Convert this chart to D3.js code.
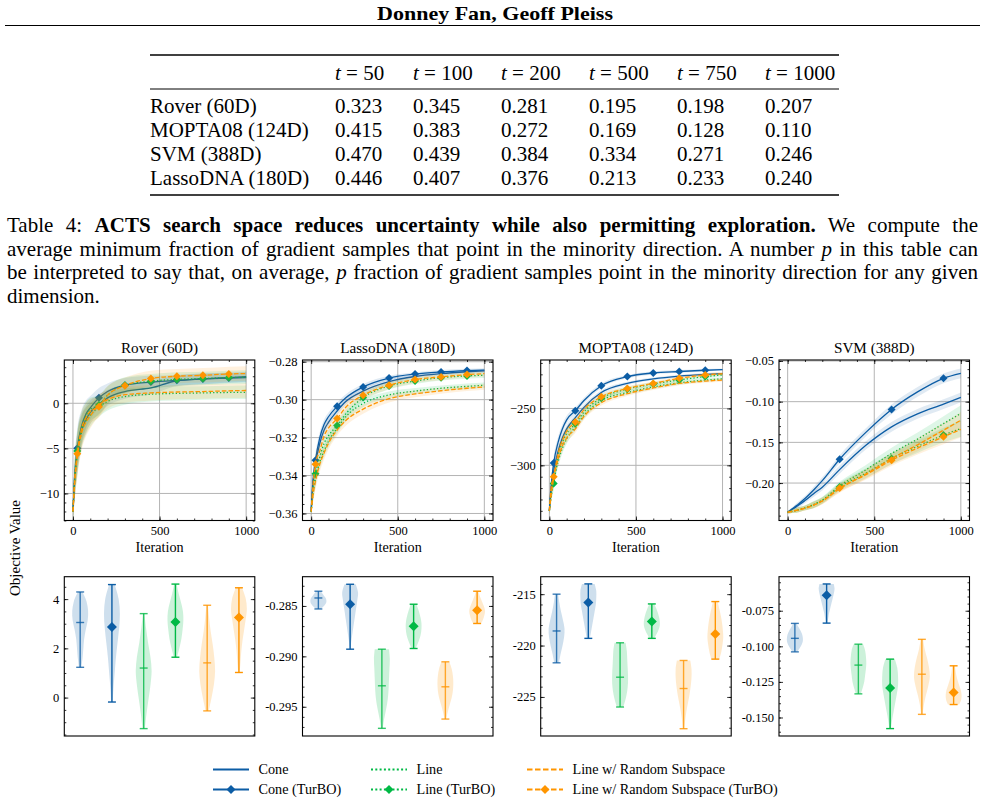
<!DOCTYPE html>
<html>
<head>
<meta charset="utf-8">
<script src="https://cdn.jsdelivr.net/npm/d3@7"></script>
<style>
  body { margin: 0; background: #fff; }
  svg { display: block; }
</style>
</head>
<body>
<div id="chart"></div>
<script>
//////////////////////////////////////////////////////////////////
//////////////////////////  Data  ////////////////////////////////
// table
const tableCols = ["50", "100", "200", "500", "750", "1000"];
const tableRows = ["Rover (60D)", "MOPTA08 (124D)", "SVM (388D)", "LassoDNA (180D)"];
const roverFrac = ["0.323", "0.345", "0.281", "0.195", "0.198", "0.207"];
const moptaFrac = ["0.415", "0.383", "0.272", "0.169", "0.128", "0.110"];
const svmFrac = ["0.470", "0.439", "0.384", "0.334", "0.271", "0.246"];
const lassoFrac = ["0.446", "0.407", "0.376", "0.213", "0.233", "0.240"];

// plots
const benchmarks = ["Rover (60D)", "LassoDNA (180D)", "MOPTA08 (124D)", "SVM (388D)"];
const methods = ["Cone", "Cone (TurBO)", "Line", "Line (TurBO)",
  "Line w/ Random Subspace", "Line w/ Random Subspace (TurBO)"];
const iterGrid = [0, 10, 25, 50, 75, 100, 150, 200, 300, 450, 600, 750, 900, 1000];
const markIters = [25, 150, 300, 450, 600, 750, 900];
const svmMarkIters = [300, 600, 900];

// Rover (60D) curves
const roverCone  = [-12, -8.5, -5.5, -3.0, -1.8, -1.0, -0.1, 0.6, 1.3, 1.7, 2.5, 2.7, 2.85, 2.95];
const roverConeT = [-12, -8.0, -5.0, -2.5, -1.2, -0.5, 0.6, 1.3, 2.0, 2.35, 2.55, 2.7, 2.8, 2.85];
const roverLine  = [-12, -8.6, -5.8, -3.2, -2.0, -1.3, -0.4, 0.2, 0.75, 1.0, 1.1, 1.15, 1.2, 1.22];
const roverLineT = [-12, -8.2, -5.3, -2.7, -1.4, -0.7, -0.2, 0.9, 2.0, 2.45, 2.65, 2.75, 2.85, 2.9];
const roverLRS   = [-12, -8.7, -5.9, -3.3, -2.1, -1.4, -0.2, 0.4, 0.95, 1.15, 1.25, 1.3, 1.38, 1.42];
const roverLRST  = [-12, -8.6, -5.6, -2.8, -1.6, -0.9, -0.38, 0.9, 1.95, 2.75, 3.0, 3.1, 3.25, 3.3];
const roverBandCone = [1.0, 2.0, 2.2, 1.8, 1.5, 1.3, 1.1, 0.9, 0.8, 0.7, 0.6, 0.6, 0.55, 0.55];
const roverBandLine = [1.0, 2.0, 2.2, 1.8, 1.5, 1.3, 1.1, 1.0, 0.9, 0.8, 0.8, 0.75, 0.75, 0.75];
const roverBandLRS  = [1.0, 2.0, 2.3, 1.9, 1.6, 1.4, 1.2, 1.0, 0.9, 0.85, 0.8, 0.8, 0.8, 0.8];

// LassoDNA (180D) curves
const lassoCone  = [-0.359, -0.345, -0.334, -0.323, -0.316, -0.312, -0.306, -0.301, -0.2955, -0.2905, -0.2878, -0.2863, -0.2853, -0.2848];
const lassoConeT = [-0.359, -0.343, -0.332, -0.320, -0.313, -0.309, -0.3035, -0.299, -0.2933, -0.2886, -0.2865, -0.2854, -0.2847, -0.2844];
const lassoLine  = [-0.359, -0.350, -0.342, -0.333, -0.327, -0.322, -0.315, -0.309, -0.302, -0.2975, -0.2955, -0.294, -0.293, -0.2924];
const lassoLineT = [-0.359, -0.348, -0.339, -0.330, -0.323, -0.319, -0.3136, -0.3075, -0.2989, -0.2928, -0.2902, -0.2884, -0.2875, -0.2871];
const lassoLRS   = [-0.359, -0.351, -0.343, -0.334, -0.328, -0.323, -0.316, -0.311, -0.305, -0.2995, -0.297, -0.2953, -0.294, -0.2933];
const lassoLRST  = [-0.359, -0.346, -0.334, -0.327, -0.319, -0.315, -0.310, -0.304, -0.2977, -0.2924, -0.2894, -0.288, -0.2868, -0.2863];
const lassoBandCone = [0.002, 0.004, 0.004, 0.003, 0.0025, 0.0022, 0.002, 0.0018, 0.0015, 0.0012, 0.001, 0.001, 0.001, 0.001];
const lassoBandLine = [0.002, 0.004, 0.004, 0.0035, 0.003, 0.003, 0.0028, 0.0025, 0.002, 0.0018, 0.0016, 0.0015, 0.0015, 0.0015];
const lassoBandLRS  = [0.002, 0.004, 0.0045, 0.004, 0.0035, 0.0033, 0.003, 0.0028, 0.0024, 0.002, 0.0018, 0.0016, 0.0015, 0.0015];

// MOPTA08 (124D) curves
const moptaCone  = [-340, -322, -305, -288, -276, -268, -258, -249, -236, -228, -224, -221.5, -220, -219.3];
const moptaConeT = [-340, -318, -298, -280, -268, -260, -252, -243, -230, -222, -218.8, -217.5, -216.4, -215.9];
const moptaLine  = [-340, -328, -313, -297, -285, -277, -266, -256, -243, -236, -231, -227.5, -225, -224];
const moptaLineT = [-340, -325, -316, -292, -280, -272, -263.5, -253, -241, -233, -228.5, -225, -222, -220.5];
const moptaLRS   = [-340, -327, -311, -295, -283, -276, -268, -257, -245, -237, -232, -228, -226, -225];
const moptaLRST  = [-340, -320, -310, -290, -278, -270, -261.8, -251, -239.8, -232.4, -228, -223.5, -220.6, -219.5];
const moptaBandCone = [3, 6, 6, 5, 4, 3.5, 3, 2.5, 2, 1.5, 1.3, 1.2, 1.1, 1.0];
const moptaBandLine = [3, 6, 6, 5, 4.5, 4, 3.5, 3, 2.5, 2, 1.8, 1.6, 1.5, 1.5];
const moptaBandLRS  = [3, 6, 6, 5, 4.5, 4, 3.5, 3, 2.5, 2, 1.8, 1.6, 1.5, 1.5];

// SVM (388D) curves
const svmCone  = [-0.236, -0.2345, -0.2325, -0.229, -0.2255, -0.2215, -0.213, -0.205, -0.1835, -0.154, -0.131, -0.115, -0.103, -0.0947];
const svmConeT = [-0.236, -0.2345, -0.232, -0.228, -0.2235, -0.219, -0.2085, -0.197, -0.1707, -0.138, -0.1095, -0.088, -0.0713, -0.0652];
const svmLine  = [-0.236, -0.2355, -0.2348, -0.2335, -0.232, -0.2305, -0.2265, -0.221, -0.2035, -0.184, -0.1637, -0.146, -0.127, -0.1145];
const svmLineT = [-0.236, -0.2355, -0.2348, -0.2335, -0.232, -0.2305, -0.2265, -0.221, -0.2048, -0.188, -0.1698, -0.155, -0.141, -0.133];
const svmLRS   = [-0.236, -0.2355, -0.2348, -0.2335, -0.2322, -0.2308, -0.227, -0.222, -0.207, -0.189, -0.170, -0.153, -0.135, -0.1227];
const svmLRST  = [-0.236, -0.2355, -0.2348, -0.2335, -0.2322, -0.2308, -0.227, -0.222, -0.206, -0.190, -0.172, -0.157, -0.1432, -0.134];
const svmBandCone = [0.001, 0.002, 0.002, 0.003, 0.003, 0.003, 0.004, 0.004, 0.005, 0.005, 0.006, 0.006, 0.006, 0.006];
const svmBandLine = [0.001, 0.002, 0.002, 0.003, 0.003, 0.003, 0.004, 0.004, 0.005, 0.006, 0.007, 0.008, 0.009, 0.01];
const svmBandLRS  = [0.001, 0.002, 0.002, 0.003, 0.003, 0.003, 0.004, 0.004, 0.005, 0.006, 0.007, 0.008, 0.009, 0.01];

// final-value violins (order = methods)
const roverLo  = [1.23, -0.18, -1.26, 1.64, -0.54, 1.02];
const roverHi  = [4.29, 4.59, 3.41, 4.61, 3.75, 4.46];
const roverMid = [3.05, 2.87, 1.2, 3.07, 1.41, 3.25];
const roverShape = [
  [0.15, 0.3, 0.4, 0.5, 0.7, 0.95, 1.0, 0.8, 0.3],
  [0.1, 0.2, 0.35, 0.5, 0.7, 0.9, 1.0, 0.85, 0.35],
  [0.15, 0.35, 0.6, 0.85, 1.0, 0.85, 0.55, 0.3, 0.1],
  [0.2, 0.5, 0.75, 0.9, 1.0, 0.95, 0.7, 0.4, 0.15],
  [0.2, 0.55, 0.85, 1.0, 0.9, 0.7, 0.45, 0.25, 0.1],
  [0.1, 0.2, 0.3, 0.45, 0.65, 0.85, 1.0, 0.85, 0.4]];

const lassoLo  = [-0.2853, -0.28929, -0.29714, -0.28922, -0.29622, -0.28674];
const lassoHi  = [-0.28354, -0.28285, -0.28929, -0.28483, -0.29054, -0.28354];
const lassoMid = [-0.28421, -0.28483, -0.29292, -0.28701, -0.29302, -0.28543];
const lassoShape = [
  [0.3, 0.6, 0.85, 1.0, 1.0, 0.9, 0.7, 0.5, 0.3],
  [0.05, 0.15, 0.3, 0.45, 0.6, 0.75, 0.9, 1.0, 0.7],
  [0.1, 0.3, 0.55, 0.75, 0.85, 0.9, 0.95, 1.0, 0.9],
  [0.25, 0.55, 0.8, 0.95, 1.0, 0.95, 0.8, 0.6, 0.35],
  [0.1, 0.3, 0.55, 0.8, 0.95, 1.0, 0.95, 0.8, 0.5],
  [0.5, 0.75, 0.9, 1.0, 0.9, 0.7, 0.5, 0.3, 0.15]];

const moptaLo  = [-221.68, -219.3, -225.98, -219.3, -228.09, -221.32];
const moptaHi  = [-215.0, -214.0, -219.73, -215.95, -221.45, -215.72];
const moptaMid = [-218.58, -215.82, -223.08, -217.67, -224.18, -218.88];
const moptaShape = [
  [0.3, 0.5, 0.75, 0.95, 1.0, 0.8, 0.55, 0.35, 0.2],
  [0.2, 0.35, 0.5, 0.65, 0.8, 0.95, 1.0, 1.0, 0.8],
  [0.4, 0.7, 0.9, 1.0, 1.0, 0.95, 0.9, 0.85, 0.7],
  [0.3, 0.6, 0.85, 1.0, 1.0, 0.9, 0.75, 0.55, 0.3],
  [0.1, 0.2, 0.35, 0.55, 0.75, 0.9, 1.0, 1.0, 0.85],
  [0.5, 0.75, 0.9, 1.0, 0.95, 0.85, 0.7, 0.5, 0.3]];

const svmLo  = [-0.1039, -0.0837, -0.1334, -0.1578, -0.1478, -0.1409];
const svmHi  = [-0.0839, -0.0562, -0.0985, -0.109, -0.0951, -0.1137];
const svmMid = [-0.0944, -0.0642, -0.1132, -0.1292, -0.1196, -0.1325];
const svmShape = [
  [0.3, 0.6, 0.85, 1.0, 1.0, 0.9, 0.7, 0.45, 0.2],
  [0.1, 0.2, 0.3, 0.45, 0.6, 0.75, 0.9, 1.0, 0.9],
  [0.3, 0.55, 0.75, 0.85, 0.95, 1.0, 0.95, 0.85, 0.6],
  [0.1, 0.25, 0.45, 0.65, 0.85, 1.0, 1.0, 0.9, 0.6],
  [0.1, 0.25, 0.5, 0.8, 1.0, 0.9, 0.65, 0.35, 0.15],
  [0.7, 0.95, 1.0, 0.9, 0.7, 0.5, 0.35, 0.25, 0.15]];

// axis limits and ticks
const topLimits = [[-13, 4.8], [-0.3637, -0.2791], [-348.5, -207.4], [-0.246, -0.0488]];
const topTicks = [[-10, -5, 0], [-0.36, -0.34, -0.32, -0.30, -0.28], [-300, -250], [-0.20, -0.15, -0.10, -0.05]];
const botLimits = [[-1.56, 4.91], [-0.2979, -0.2821], [-228.8, -213.3], [-0.163, -0.0511]];
const botTicks = [[0, 2, 4], [-0.295, -0.290, -0.285], [-225, -220, -215], [-0.150, -0.125, -0.100, -0.075]];
const xTicks = [0, 500, 1000];

//////////////////////////////////////////////////////////////////
//////////////////////////  Init  ////////////////////////////////
const FONT = '"Liberation Serif", "Times New Roman", serif';
const BLUE = "#0C5DA5", GREEN = "#00B945", ORANGE = "#FF9500";
const methodColor = [BLUE, BLUE, GREEN, GREEN, ORANGE, ORANGE];
const methodDash = [null, null, "1.3,2.1", "1.3,2.1", "4.6,2", "4.6,2"];
const methodTurbo = [false, true, false, true, false, true];

const svg = d3.select("#chart").append("svg")
  .attr("width", 985).attr("height", 804)
  .attr("font-family", FONT);

const panelLeft = [64.3, 302.5, 540.7, 779];
const panelW = 190.5;
const topY = 360, topH = 160.5;
const botY = 576.7, botH = 159.3;

const diamond = (r) => `M0,${-r}L${r},0L0,${r}L${-r},0Z`;
const hyphenFmt = d3.formatLocale({ decimal: ".", thousands: ",", grouping: [3], currency: ["", ""], minus: "-" });
const topFmt = [d3.format("d"), d3.format(".2f"), d3.format("d"), d3.format(".2f")];
const botFmt = [hyphenFmt.format("d"), hyphenFmt.format(".3f"), hyphenFmt.format("d"), hyphenFmt.format(".3f")];
const topMinorStep = [1, 0.005, 10, 0.01];
const botMinorStep = [0.5, 0.001, 1, 0.005];

function minorTicks(lim, step) {
  return d3.range(Math.ceil(lim[0] / step - 1e-9), Math.floor(lim[1] / step + 1e-9) + 1).map((k) => k * step);
}

////////////////////////////////////////////////////////////////////
//////////////////////////  Header & table  //////////////////////////
svg.append("text")
  .attr("x", 495).attr("y", 20)
  .attr("text-anchor", "middle")
  .attr("textLength", 236).attr("lengthAdjust", "spacingAndGlyphs")
  .style("font-size", "19px").style("font-weight", "bold")
  .text("Donney Fan, Geoff Pleiss");
svg.append("line").attr("x1", 5).attr("x2", 980).attr("y1", 25.5).attr("y2", 25.5)
  .attr("stroke", "#000").attr("stroke-width", 1);

const colX = [150, 335, 413, 501, 589, 677, 765];
const tableVals = [roverFrac, moptaFrac, svmFrac, lassoFrac];
const rowBase = [113, 137, 161, 185];

[[55, 1.7], [89, 1], [195, 1.7]].forEach(([yy, sw]) => {
  svg.append("line").attr("x1", 150).attr("x2", 839).attr("y1", yy).attr("y2", yy)
    .attr("stroke", "#000").attr("stroke-width", sw);
});
tableCols.forEach((c, j) => {
  const t = svg.append("text").attr("x", colX[j + 1]).attr("y", 80).style("font-size", "21px")
    .style("white-space", "pre");
  t.append("tspan").style("font-style", "italic").text("t");
  t.append("tspan").text(" = " + c);
});
tableRows.forEach((r, i) => {
  svg.append("text").attr("x", colX[0]).attr("y", rowBase[i]).style("font-size", "21px").text(r);
  tableVals[i].forEach((v, j) => {
    svg.append("text").attr("x", colX[j + 1]).attr("y", rowBase[i]).style("font-size", "21px").text(v);
  });
});

// caption (justified lines)
const captionLines = [
  [["Table 4: ", ""], ["ACTS search space reduces uncertainty while also permitting exploration.", "b"], [" We compute the", ""]],
  [["average minimum fraction of gradient samples that point in the minority direction. A number ", ""], ["p", "i"], [" in this table can", ""]],
  [["be interpreted to say that, on average, ", ""], ["p", "i"], [" fraction of gradient samples point in the minority direction for any given", ""]],
  [["dimension.", ""]]
];
const capBase = [232, 256, 279, 303];
captionLines.forEach((segs, i) => {
  const t = svg.append("text").attr("x", 7).attr("y", capBase[i])
    .style("font-size", "21px").style("white-space", "pre");
  segs.forEach(([s, f]) => {
    t.append("tspan").text(s)
      .style("font-weight", f === "b" ? "bold" : null)
      .style("font-style", f === "i" ? "italic" : null);
  });
  if (i < captionLines.length - 1) {
    const full = segs.map((s) => s[0]).join("");
    const nSp = full.split(" ").length - 1;
    const w = t.node().getComputedTextLength();
    t.style("word-spacing", ((971 - w) / nSp) + "px");
  }
});

////////////////////////////////////////////////////////////////////
//////////////////////////  Axes helper  /////////////////////////////
function styleAxis(sel) {
  sel.attr("font-family", FONT).attr("font-size", 12.5);
  sel.select(".domain").remove();
  sel.selectAll("line").attr("stroke", "#000").attr("stroke-width", 0.8);
  sel.selectAll("text").attr("fill", "#000");
}

function yAxes(g, y, L, R, major, minor, fmt) {
  g.append("g").attr("transform", `translate(${L},0)`)
    .call(d3.axisLeft(y).tickValues(major).tickSize(-4).tickPadding(5).tickFormat(fmt)).call(styleAxis);
  g.append("g").attr("transform", `translate(${L},0)`)
    .call(d3.axisLeft(y).tickValues(minor).tickSize(-2).tickFormat("")).call(styleAxis);
  g.append("g").attr("transform", `translate(${R},0)`)
    .call(d3.axisRight(y).tickValues(major).tickSize(-4).tickFormat("")).call(styleAxis);
  g.append("g").attr("transform", `translate(${R},0)`)
    .call(d3.axisRight(y).tickValues(minor).tickSize(-2).tickFormat("")).call(styleAxis);
}

function frame(g, L, T, W, H) {
  g.append("rect").attr("x", L).attr("y", T).attr("width", W).attr("height", H)
    .attr("fill", "none").attr("stroke", "#000").attr("stroke-width", 1.1);
}

////////////////////////////////////////////////////////////////////
//////////////////////////  Top row: curves  /////////////////////////
const topSeries = [
  [roverCone, roverConeT, roverLine, roverLineT, roverLRS, roverLRST],
  [lassoCone, lassoConeT, lassoLine, lassoLineT, lassoLRS, lassoLRST],
  [moptaCone, moptaConeT, moptaLine, moptaLineT, moptaLRS, moptaLRST],
  [svmCone, svmConeT, svmLine, svmLineT, svmLRS, svmLRST]
];
const topBands = [
  [roverBandCone, roverBandLine, roverBandLRS],
  [lassoBandCone, lassoBandLine, lassoBandLRS],
  [moptaBandCone, moptaBandLine, moptaBandLRS],
  [svmBandCone, svmBandLine, svmBandLRS]
];
const topMarks = [markIters, markIters, markIters, svmMarkIters];

benchmarks.forEach((name, i) => {
  const L = panelLeft[i], R = L + panelW;
  const x = d3.scaleLinear().domain([-50, 1050]).range([L, R]);
  const y = d3.scaleLinear().domain(topLimits[i]).range([topY + topH, topY]);
  const g = svg.append("g");

  g.append("defs").append("clipPath").attr("id", "clipTop" + i)
    .append("rect").attr("x", L).attr("y", topY).attr("width", panelW).attr("height", topH);

  // grid
  g.selectAll(null).data(xTicks).join("line")
    .attr("x1", (d) => x(d)).attr("x2", (d) => x(d)).attr("y1", topY).attr("y2", topY + topH)
    .attr("stroke", "#b4b4b4").attr("stroke-width", 1);
  g.selectAll(null).data(topTicks[i]).join("line")
    .attr("x1", L).attr("x2", R).attr("y1", (d) => y(d)).attr("y2", (d) => y(d))
    .attr("stroke", "#b4b4b4").attr("stroke-width", 1);

  const plot = g.append("g").attr("clip-path", `url(#clipTop${i})`);
  const line = d3.line().curve(d3.curveMonotoneX).x((d) => x(d.it)).y((d) => y(d.v));
  const area = d3.area().curve(d3.curveMonotoneX).x((d) => x(d.it))
    .y0((d) => y(d.v - d.s)).y1((d) => y(d.v + d.s));

  topSeries[i].forEach((vals, m) => {
    const band = topBands[i][Math.floor(m / 2)];
    const pts = iterGrid.map((it, k) => ({ it: it, v: vals[k], s: band[k] }));
    plot.append("path").datum(pts).attr("d", area)
      .attr("fill", methodColor[m]).attr("fill-opacity", 0.13);
    plot.append("path").datum(pts).attr("d", line)
      .attr("fill", "none").attr("stroke", methodColor[m]).attr("stroke-width", 1.3)
      .attr("stroke-dasharray", methodDash[m]);
    if (methodTurbo[m]) {
      const mk = pts.filter((p) => topMarks[i].includes(p.it));
      plot.selectAll(null).data(mk).join("path")
        .attr("transform", (d) => `translate(${x(d.it)},${y(d.v)})`)
        .attr("d", diamond(4)).attr("fill", methodColor[m]);
    }
  });

  // ticks
  yAxes(g, y, L, R, topTicks[i], minorTicks(topLimits[i], topMinorStep[i]), topFmt[i]);
  const xMinor = d3.range(0, 1001, 100);
  g.append("g").attr("transform", `translate(0,${topY + topH})`)
    .call(d3.axisBottom(x).tickValues(xTicks).tickSize(-4).tickPadding(6).tickFormat(d3.format("d"))).call(styleAxis);
  g.append("g").attr("transform", `translate(0,${topY + topH})`)
    .call(d3.axisBottom(x).tickValues(xMinor).tickSize(-2).tickFormat("")).call(styleAxis);
  g.append("g").attr("transform", `translate(0,${topY})`)
    .call(d3.axisTop(x).tickValues(xTicks).tickSize(-4).tickFormat("")).call(styleAxis);
  g.append("g").attr("transform", `translate(0,${topY})`)
    .call(d3.axisTop(x).tickValues(xMinor).tickSize(-2).tickFormat("")).call(styleAxis);
  frame(g, L, topY, panelW, topH);

  g.append("text").attr("x", (L + R) / 2).attr("y", 353).attr("text-anchor", "middle")
    .style("font-size", "15.2px").text(name);
  g.append("text").attr("x", (L + R) / 2).attr("y", 552).attr("text-anchor", "middle")
    .style("font-size", "14.2px").text("Iteration");
});

////////////////////////////////////////////////////////////////////
//////////////////////////  Bottom row: violins  //////////////////////
const botLo = [roverLo, lassoLo, moptaLo, svmLo];
const botHi = [roverHi, lassoHi, moptaHi, svmHi];
const botMid = [roverMid, lassoMid, moptaMid, svmMid];
const botShape = [roverShape, lassoShape, moptaShape, svmShape];

benchmarks.forEach((name, i) => {
  const L = panelLeft[i], R = L + panelW;
  const xv = d3.scaleLinear().domain([0.5, 6.5]).range([L, R]);
  const y = d3.scaleLinear().domain(botLimits[i]).range([botY + botH, botY]);
  const g = svg.append("g");

  methods.forEach((m, j) => {
    const pos = j + 1;
    const lo = botLo[i][j], hi = botHi[i][j], mid = botMid[i][j];
    const shape = botShape[i][j];
    const pts = shape.map((w, k) => ({ v: lo + (hi - lo) * k / (shape.length - 1), w: w * 0.25 }));
    const area = d3.area().curve(d3.curveCatmullRom)
      .y((d) => y(d.v)).x0((d) => xv(pos - d.w)).x1((d) => xv(pos + d.w));
    const col = methodColor[j];
    const op = methodTurbo[j] ? 1 : 0.8;
    g.append("path").datum(pts).attr("d", area)
      .attr("fill", col).attr("fill-opacity", 0.2);
    const ln = g.append("g").attr("stroke", col).attr("stroke-width", 1.4).attr("stroke-opacity", op);
    ln.append("line").attr("x1", xv(pos)).attr("x2", xv(pos)).attr("y1", y(lo)).attr("y2", y(hi));
    [lo, hi].forEach((v) => {
      ln.append("line").attr("x1", xv(pos - 0.125)).attr("x2", xv(pos + 0.125))
        .attr("y1", y(v)).attr("y2", y(v));
    });
    if (methodTurbo[j]) {
      g.append("path").attr("transform", `translate(${xv(pos)},${y(mid)})`)
        .attr("d", diamond(5)).attr("fill", col);
    } else {
      ln.append("line").attr("x1", xv(pos - 0.125)).attr("x2", xv(pos + 0.125))
        .attr("y1", y(mid)).attr("y2", y(mid));
    }
  });

  yAxes(g, y, L, R, botTicks[i], minorTicks(botLimits[i], botMinorStep[i]), botFmt[i]);
  frame(g, L, botY, panelW, botH);
});

svg.append("text")
  .attr("transform", "translate(20,548) rotate(-90)")
  .attr("text-anchor", "middle")
  .style("font-size", "15px")
  .text("Objective Value");

////////////////////////////////////////////////////////////////////
//////////////////////////  Legend  //////////////////////////////////
const legX = [213, 371, 527];
const legRowY = [769.5, 789.5];
const legDash = [null, null, "2,2.3", "2,2.3", "5.5,2.5", "5.5,2.5"];
methods.forEach((m, j) => {
  const cx = legX[Math.floor(j / 2)];
  const cy = legRowY[j % 2];
  svg.append("line").attr("x1", cx).attr("x2", cx + 36).attr("y1", cy).attr("y2", cy)
    .attr("stroke", methodColor[j]).attr("stroke-width", 2).attr("stroke-dasharray", legDash[j]);
  if (methodTurbo[j]) {
    svg.append("path").attr("transform", `translate(${cx + 18},${cy})`)
      .attr("d", diamond(4.5)).attr("fill", methodColor[j]);
  }
  svg.append("text").attr("x", cx + 45.5).attr("y", cy + 4.5)
    .style("font-size", "14.2px").text(m);
});
</script>
</body>
</html>
